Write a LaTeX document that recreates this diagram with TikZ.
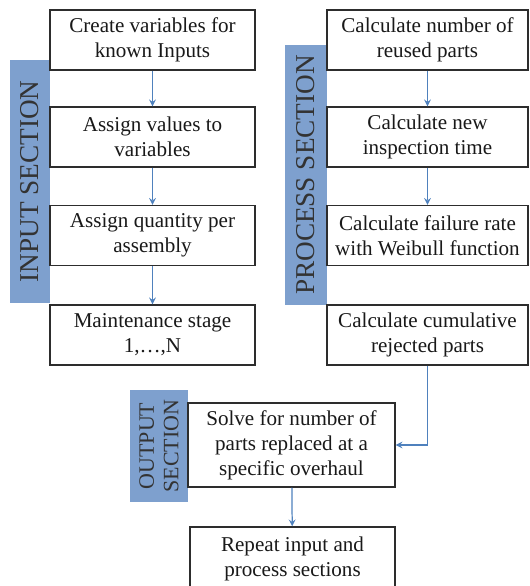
\documentclass[tikz,border=0pt]{standalone}
\usepackage{fontspec}
\setmainfont{Liberation Serif}
\usepackage{tikz}
\definecolor{bandblue}{RGB}{126,160,206}
\definecolor{arrblue}{RGB}{79,129,189}
\definecolor{boxgray}{RGB}{45,45,45}

\begin{document}
\begin{tikzpicture}[
  stepbox/.style={draw=boxgray, line width=0.8pt, fill=white, rectangle, align=center,
    text=black!90, font=\fontsize{12}{14.3}\selectfont, minimum height=1.2cm},
  band/.style={fill=bandblue, rectangle, rotate=90, align=center, text=black!80,
    font=\fontsize{15.5}{17}\selectfont},
  flow/.style={->, >=stealth, line width=0.7pt, arrblue}]
\usetikzlibrary{arrows}
\useasboundingbox (0,0) rectangle (10.58,-11.72);
% section bands
\node[band, minimum width=4.86cm, minimum height=0.8cm] (inp) at (0.6,-3.63) {INPUT SECTION};
\node[band, minimum width=5.2cm, minimum height=0.84cm] (proc) at (6.12,-3.5) {PROCESS SECTION};
\node[band, minimum width=2.24cm, minimum height=1.16cm,
  font=\fontsize{12.5}{14}\selectfont] (outp) at (3.18,-8.92) {OUTPUT\\SECTION};
% input column
\node[stepbox, minimum width=4.1cm, xshift=3.05cm, yshift=-0.80cm] (var) {Create variables for\\known Inputs};
\node[stepbox, minimum width=4.1cm, xshift=3.05cm, yshift=-2.74cm] (val) {Assign values to\\variables};
\node[stepbox, minimum width=4.1cm, xshift=3.05cm, yshift=-4.71cm] (qty) {Assign quantity per\\assembly};
\node[stepbox, minimum width=4.1cm, xshift=3.05cm, yshift=-6.70cm] (stg) {Maintenance stage\\1,\ldots,N};
% process column
\node[stepbox, minimum width=4.02cm, xshift=8.55cm, yshift=-0.80cm] (reu) {Calculate number of\\reused parts};
\node[stepbox, minimum width=4.02cm, xshift=8.55cm, yshift=-2.74cm] (ins) {Calculate new\\inspection time};
\node[stepbox, minimum width=4.02cm, xshift=8.55cm, yshift=-4.71cm] (fail) {Calculate failure rate\\with Weibull function};
\node[stepbox, minimum width=4.02cm, xshift=8.55cm, yshift=-6.70cm] (rej) {Calculate cumulative\\rejected parts};
% output
\node[stepbox, minimum width=4.14cm, minimum height=1.68cm, xshift=5.83cm, yshift=-8.90cm] (solve) {Solve for number of\\parts replaced at a\\specific overhaul};
\node[stepbox, minimum width=4.1cm, minimum height=1.26cm, xshift=5.85cm, yshift=-11.17cm] (rep) {Repeat input and\\process sections};
\draw [flow] (var) -- (val);
\draw [flow] (val) -- (qty);
\draw [flow] (qty) -- (stg);
\draw [flow] (reu) -- (ins);
\draw [flow] (ins) -- (fail);
\draw [flow] (rej.south) |- (solve.east);
\draw [flow] (solve) -- (rep);
\end{tikzpicture}
\end{document}
